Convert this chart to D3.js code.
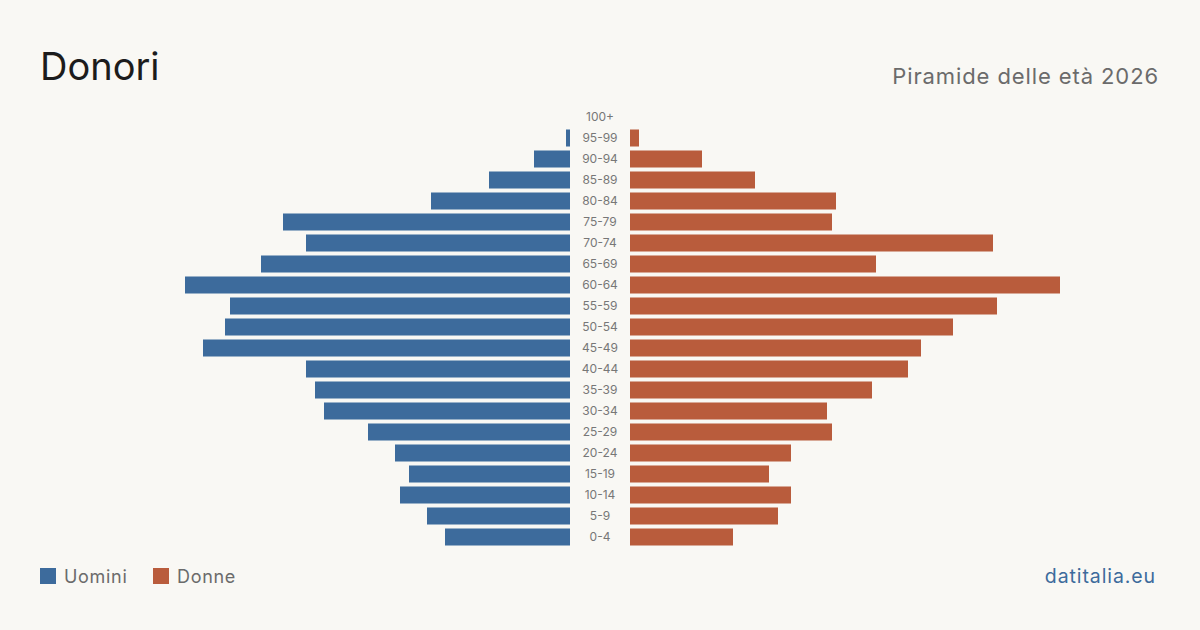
<!DOCTYPE html>
<html>
<head>
<meta charset="utf-8">
<script src="https://cdn.jsdelivr.net/npm/d3@7"></script>
<style>
  body { margin: 0; background: #f9f8f4; }
  svg { display: block; font-family: Inter, "Noto Sans", sans-serif; }
</style>
</head>
<body>
<svg width="1200" height="630"></svg>
<script>
// fasce d'età, dall'alto verso il basso
let fasce = ["100+", "95-99", "90-94", "85-89", "80-84", "75-79", "70-74", "65-69", "60-64",
  "55-59", "50-54", "45-49", "40-44", "35-39", "30-34", "25-29", "20-24", "15-19",
  "10-14", "5-9", "0-4"];

let uomini = [0, 4, 36, 81, 139, 287, 264, 309, 385, 340, 345, 367, 264, 255, 246, 202, 175, 161, 170, 143, 125];
let donne  = [0, 9, 72, 125, 206, 202, 363, 246, 430, 367, 323, 291, 278, 242, 197, 202, 161, 139, 161, 148, 103];

let serie = ["Uomini", "Donne"];
let colori = ["#3d6b9c", "#b95c3c"];

let svg = d3.select("svg");

let max_val = d3.max(uomini.concat(donne));

let x = d3.scaleLinear().domain([0, max_val]).range([0, 430]);
let y = d3.scaleBand().domain(fasce).range([106.5, 547.5]).paddingInner(0.19).paddingOuter(0.095);

let centro_sx = 570, centro_dx = 630;

// barre uomini
svg.append("g")
  .selectAll("rect")
  .data(fasce)
  .join("rect")
    .attr("x", (d, i) => centro_sx - x(uomini[i]))
    .attr("y", d => y(d))
    .attr("width", (d, i) => x(uomini[i]))
    .attr("height", y.bandwidth())
    .attr("fill", colori[0]);

// barre donne
svg.append("g")
  .selectAll("rect")
  .data(fasce)
  .join("rect")
    .attr("x", centro_dx)
    .attr("y", d => y(d))
    .attr("width", (d, i) => x(donne[i]))
    .attr("height", y.bandwidth())
    .attr("fill", colori[1]);

// etichette centrali
svg.append("g")
  .selectAll("text")
  .data(fasce)
  .join("text")
    .attr("x", 600)
    .attr("y", d => y(d) + y.bandwidth() / 2)
    .attr("dy", "0.35em")
    .attr("text-anchor", "middle")
    .attr("font-size", 12)
    .attr("fill", "#777")
    .text(d => d);

// titolo
svg.append("text")
  .attr("x", 40).attr("y", 80)
  .attr("font-size", 38)
  .attr("fill", "#1c1c1c")
  .text("Donori");

svg.append("text")
  .attr("x", 1159).attr("y", 84)
  .attr("text-anchor", "end")
  .attr("font-size", 22)
  .attr("letter-spacing", 0.9)
  .attr("fill", "#6b6b6b")
  .text("Piramide delle età 2026");

// legenda
let leg = svg.append("g")
  .selectAll("g")
  .data(serie)
  .join("g")
    .attr("transform", (d, i) => "translate(" + (40 + i * 113) + ",568)");

leg.append("rect")
  .attr("width", 16).attr("height", 16)
  .attr("fill", (d, i) => colori[i]);

leg.append("text")
  .attr("x", 24).attr("y", 9)
  .attr("dy", "0.35em")
  .attr("font-size", 18)
  .attr("letter-spacing", 0.7)
  .attr("fill", "#6b6b6b")
  .text(d => d);

svg.append("text")
  .attr("x", 1156).attr("y", 583)
  .attr("text-anchor", "end")
  .attr("font-size", 19.5)
  .attr("letter-spacing", 0.9)
  .attr("fill", "#3d6b9c")
  .text("datitalia.eu");
</script>
</body>
</html>
